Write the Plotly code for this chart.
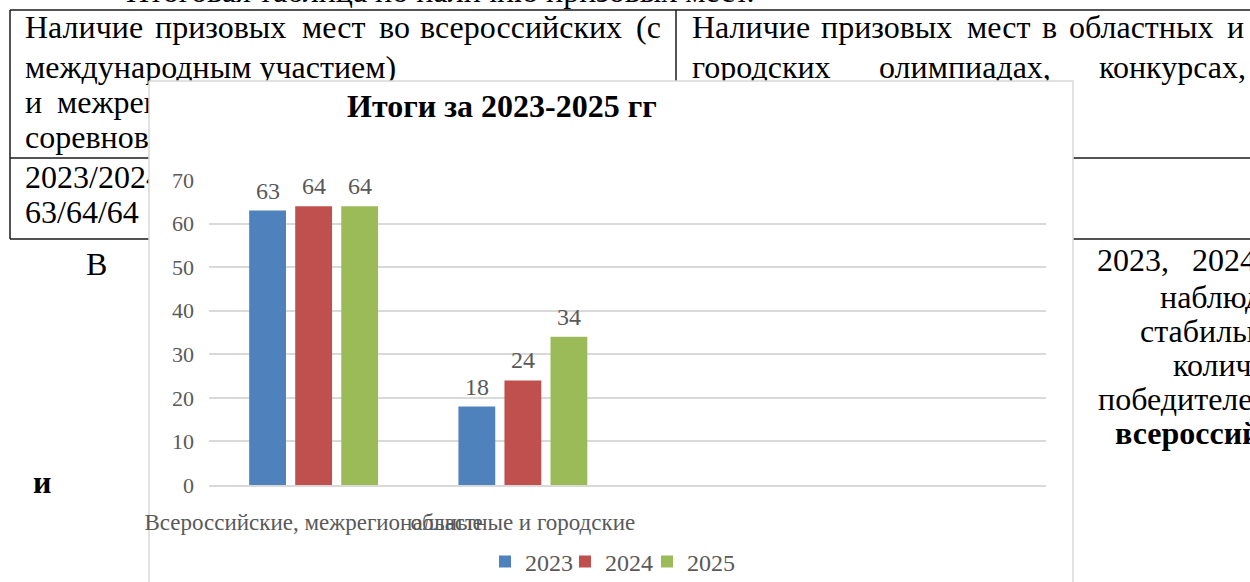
import plotly.graph_objects as go

# ---------------- chart data ----------------
categories = ["Всероссийские, межрегиональные", "областные и городские", " ", "  "]
years = ["2023", "2024", "2025"]
values_2023 = [63, 18]
values_2024 = [64, 24]
values_2025 = [64, 34]
series_values = [values_2023, values_2024, values_2025]
series_colors = ["#4F81BD", "#C0504D", "#9BBB59"]
chart_title = "Итоги за 2023-2025 гг"
y_ticks = [0, 10, 20, 30, 40, 50, 60, 70]

# ---------------- surrounding document (page decoration) ----------------
W, H = 1250, 582
SERIF = "Liberation Serif"
DOC_SIZE = 32
page_heading = "Итоговая таблица по наличию призовых мест."
# (text, left x in px, vertical centre in px, bold)
doc_words = [
    ("Наличие", 25, 30, False), ("призовых", 155, 30, False), ("мест", 302, 30, False),
    ("во", 379, 30, False), ("всероссийских", 420, 30, False), ("(с", 636, 30, False),
    ("международным участием)", 25, 70, False),
    ("и", 25, 105, False), ("межрегиональных", 57, 105, False),
    ("соревнованиях", 25, 140, False),
    ("2023/2024/2025", 25, 180, False),
    ("63/64/64", 25, 215, False),
    ("Наличие", 692, 30, False), ("призовых", 821, 30, False), ("мест", 967, 30, False),
    ("в", 1042, 30, False), ("областных", 1069, 30, False), ("и", 1227, 30, False),
    ("городских", 692, 70, False), ("олимпиадах,", 879, 70, False), ("конкурсах,", 1099, 70, False),
    ("В", 86, 267, False),
    ("2023,", 1097, 263, False), ("2024", 1192, 263, False),
    ("наблюдается", 1160, 300, False),
    ("стабильный", 1140, 334, False),
    ("количество", 1173, 368, False),
    ("победителей", 1098, 402, False),
    ("всероссийских", 1115, 436, True),
    ("и", 33, 485, True),
]
table_lines = [
    (10, 10, 1250, 10), (10, 10, 10, 239), (676, 10, 676, 239),
    (10, 158, 1250, 158), (10, 239, 1250, 239),
]
chart_box = (149, 81, 1073, 600)
plot_x = (209, 1046)
plot_y = (180, 485)
BARGAP, BARGROUPGAP = 0.34, 0.2
legend_left = [485, 565, 647]

fig = go.Figure()

# document text (background subplot, later covered by the chart box)
for txt, x0, yc, bold in doc_words:
    fig.add_trace(go.Scatter(
        x=[x0], y=[yc], mode="text",
        text=[f"<b>{txt}</b>" if bold else txt], textposition="middle right",
        textfont=dict(family=SERIF, size=DOC_SIZE, color="#000000"),
        showlegend=False, hoverinfo="skip", xaxis="x", yaxis="y", cliponaxis=True))

# white chart box covering the page
bx0, by0, bx1, by1 = chart_box
fig.add_trace(go.Scatter(
    x=[bx0, bx1, bx1, bx0, bx0], y=[by0, by0, by1, by1, by0], mode="lines",
    fill="toself", fillcolor="#FFFFFF", line=dict(color="#D9D9D9", width=1.5),
    showlegend=False, hoverinfo="skip", xaxis="x", yaxis="y"))

# bars
legend_names = ["legend", "legend2", "legend3"]
for name, vals, col, lg in zip(years, series_values, series_colors, legend_names):
    fig.add_trace(go.Bar(
        x=categories[:len(vals)], y=vals, name=name, marker=dict(color=col, line=dict(width=0)),
        xaxis="x2", yaxis="y2", legend=lg))

# value labels above the bars (positioned from the data, shifted by the bar slot width)
cat_px = (plot_x[1] - plot_x[0]) / len(categories)
slot_px = cat_px * (1 - BARGAP) / len(years)
annotations = []
for i, vals in enumerate(series_values):
    for cat, v in zip(categories, vals):
        annotations.append(dict(
            text=str(v), xref="x2", yref="y2", x=cat, y=v, xanchor="center", yanchor="middle",
            xshift=(i - (len(years) - 1) / 2) * slot_px, yshift=20, showarrow=False,
            font=dict(family=SERIF, size=24, color="#595959")))

shapes = [dict(type="line", xref="x", yref="y", x0=a, y0=b, x1=c, y1=d,
               line=dict(color="#1a1a1a", width=1.5), layer="below")
          for a, b, c, d in table_lines]

annotations += [
    dict(text=page_heading, xref="paper", yref="paper", x=125 / W, y=1 + 9 / H,
         xanchor="left", yanchor="middle", showarrow=False, borderpad=0,
         font=dict(family=SERIF, size=DOC_SIZE, color="#000000")),
    dict(text=f"<b>{chart_title}</b>", xref="paper", yref="paper",
         x=502 / W, y=1 - 106 / H, xanchor="center", yanchor="middle",
         showarrow=False, font=dict(family=SERIF, size=32, color="#000000")),
]

legend_style = dict(orientation="h", y=1 - 562 / H, yanchor="middle", xanchor="left",
                    font=dict(family=SERIF, size=24, color="#595959"),
                    bgcolor="rgba(0,0,0,0)")

fig.update_layout(
    width=W, height=H, margin=dict(l=0, r=0, t=0, b=0, autoexpand=False),
    paper_bgcolor="#FFFFFF", plot_bgcolor="rgba(0,0,0,0)",
    font=dict(family=SERIF),
    shapes=shapes,
    xaxis=dict(domain=[0, 1], range=[0, W], visible=False, fixedrange=True, automargin=False),
    yaxis=dict(domain=[0, 1], range=[H, 0], visible=False, fixedrange=True, automargin=False),
    xaxis2=dict(domain=[plot_x[0] / W, plot_x[1] / W], anchor="y2", type="category",
                categoryorder="array", categoryarray=categories, range=[-0.5, len(categories) - 0.5],
                showgrid=False, showline=True, linecolor="#D9D9D9", linewidth=2,
                ticks="", ticklabelstandoff=15, tickangle=0, automargin=False, fixedrange=True,
                tickfont=dict(family=SERIF, size=23, color="#595959")),
    yaxis2=dict(domain=[1 - plot_y[1] / H, 1 - plot_y[0] / H], anchor="x2", range=[0, 70],
                tickvals=y_ticks, showgrid=True, gridcolor="#D9D9D9", gridwidth=2,
                zeroline=False, showline=False, ticks="", ticklabelstandoff=14, automargin=False,
                fixedrange=True, tickfont=dict(family=SERIF, size=22, color="#595959")),
    bargap=BARGAP, bargroupgap=BARGROUPGAP, barmode="group",
    showlegend=True,
    legend=dict(x=legend_left[0] / W, **legend_style),
    legend2=dict(x=legend_left[1] / W, **legend_style),
    legend3=dict(x=legend_left[2] / W, **legend_style),
    annotations=annotations,
)

fig.write_html("out.html", config={"displayModeBar": False},
               post_script="document.body.style.margin='0';document.body.style.overflow='hidden';")
